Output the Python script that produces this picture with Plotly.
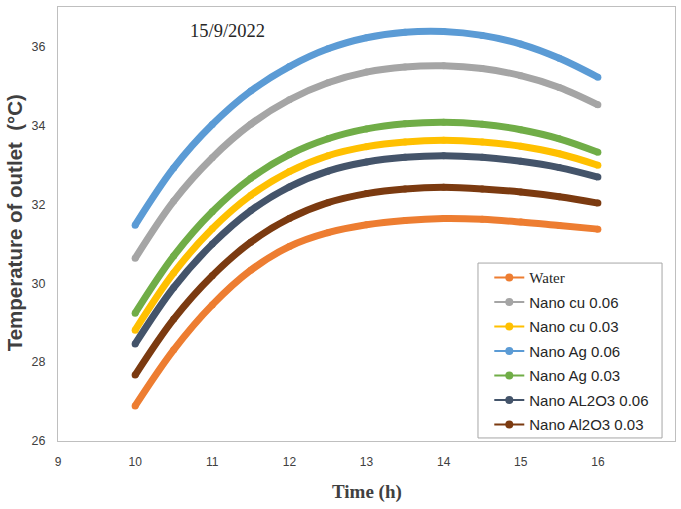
import plotly.graph_objects as go

# Outlet temperature readings, 15/9/2022
time_h = [10, 10.5, 11, 11.5, 12, 12.5, 13, 13.5, 14, 14.5, 15, 15.5, 16]

water = [26.89, 28.31, 29.45, 30.33, 30.93, 31.28, 31.48, 31.59, 31.64, 31.62, 31.55, 31.46, 31.37]
cu_006 = [30.63, 32.08, 33.18, 34.03, 34.65, 35.08, 35.35, 35.48, 35.51, 35.44, 35.26, 34.96, 34.52]
cu_003 = [28.81, 30.26, 31.38, 32.23, 32.83, 33.23, 33.46, 33.58, 33.62, 33.58, 33.47, 33.28, 32.99]
ag_006 = [31.47, 32.92, 34.02, 34.87, 35.49, 35.94, 36.22, 36.36, 36.38, 36.28, 36.06, 35.70, 35.22]
ag_003 = [29.24, 30.69, 31.81, 32.66, 33.26, 33.66, 33.91, 34.04, 34.08, 34.03, 33.89, 33.66, 33.32]
al2o3_006 = [28.46, 29.89, 30.99, 31.84, 32.44, 32.84, 33.07, 33.19, 33.23, 33.19, 33.09, 32.93, 32.69]
al2o3_003 = [27.67, 29.09, 30.19, 31.04, 31.64, 32.04, 32.27, 32.39, 32.43, 32.39, 32.31, 32.19, 32.03]

series_names = ["Water", "Nano cu 0.06", "Nano cu 0.03", "Nano Ag 0.06",
                "Nano Ag 0.03", "Nano AL2O3 0.06", "Nano Al2O3 0.03"]
series_values = [water, cu_006, cu_003, ag_006, ag_003, al2o3_006, al2o3_003]
series_colors = ["#ED7D31", "#A5A5A5", "#FFC000", "#5B9BD5",
                 "#70AD47", "#44546A", "#7B3A10"]

x_ticks = [9, 10, 11, 12, 13, 14, 15, 16, 17]
y_ticks = [26, 28, 30, 32, 34, 36]

SERIF = "Liberation Serif, Times New Roman, serif"
SANS = "Liberation Sans Narrow, Liberation Sans, Arial, sans-serif"

fig = go.Figure()

# thick smooth curves (kept out of the legend)
for name, vals, col in zip(series_names, series_values, series_colors):
    fig.add_trace(go.Scatter(
        x=time_h, y=vals, mode="lines+markers",
        line=dict(color=col, width=7, shape="spline", smoothing=1.0),
        marker=dict(color=col, size=7),
        showlegend=False, hoverinfo="skip",
    ))

# thin legend keys with a dot
for name, col in zip(series_names, series_colors):
    label = f"<span style='font-family:{SERIF}'>{name}</span>" if name == "Water" else name
    fig.add_trace(go.Scatter(
        x=[None], y=[None], mode="lines+markers", name=label,
        line=dict(color=col, width=2), marker=dict(color=col, size=8),
        legendgroup=name,
    ))

fig.update_layout(
    width=681, height=509,
    margin=dict(l=58, r=6, t=7, b=68),
    paper_bgcolor="white", plot_bgcolor="white",
    font=dict(family=SANS, color="#595959", size=12),
    showlegend=True,
    legend=dict(
        x=0.699, y=0.414, xanchor="left", yanchor="top",
        borderwidth=0, bgcolor="rgba(0,0,0,0)",
        font=dict(family=SANS, size=15, color="#262626"),
        tracegroupgap=2, itemwidth=30,
    ),
    # legend frame
    shapes=[dict(type="rect", xref="paper", yref="paper",
                 x0=0.6807, x1=0.979, y0=0.007, y1=0.410,
                 line=dict(color="#A6A6A6", width=1), fillcolor="white",
                 layer="above")],
    xaxis=dict(
        range=[9, 17], tickvals=x_ticks, showgrid=False, zeroline=False,
        showline=True, linecolor="#BFBFBF", linewidth=1, mirror=True,
        ticks="", ticklabelstandoff=10,
        tickfont=dict(family=SANS, size=12, color="#404040"),
    ),
    yaxis=dict(
        range=[26, 37], tickvals=y_ticks, showgrid=False, zeroline=False,
        showline=True, linecolor="#BFBFBF", linewidth=1, mirror=True,
        ticks="", ticklabelstandoff=9,
        tickfont=dict(family=SANS, size=12.5, color="#404040"),
    ),
    annotations=[
        dict(text="15/9/2022", x=0.2755, y=0.945, xref="paper", yref="paper",
             xanchor="center", yanchor="middle", showarrow=False,
             font=dict(family=SERIF, size=18.5, color="#262626")),
        dict(text="<b>Time (h)</b>", x=0.5, y=-0.118, xref="paper", yref="paper",
             showarrow=False, xanchor="center", yanchor="middle",
             font=dict(family=SERIF, size=19, color="#404040")),
        dict(text="<b>Temperature of outlet  (°C)</b>", x=-0.071, y=0.502,
             xref="paper", yref="paper", showarrow=False, textangle=-90,
             xanchor="center", yanchor="middle",
             font=dict(family="Liberation Sans, Arial, sans-serif", size=20.5, color="#404040")),
    ],
)

fig.write_html("out.html")
